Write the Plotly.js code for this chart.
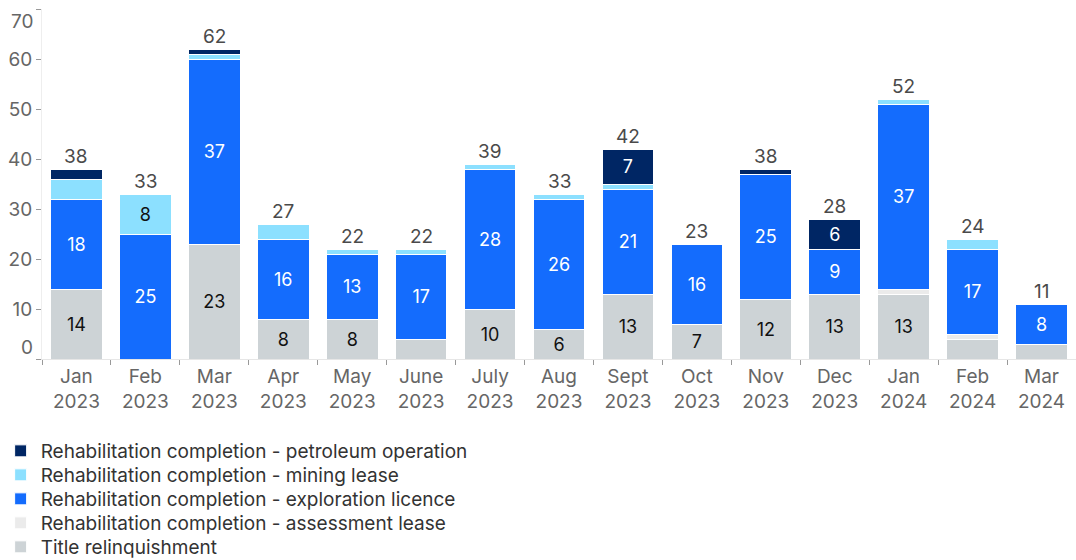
<!DOCTYPE html>
<html>
<head>
<meta charset="utf-8">
<script src="https://cdn.plot.ly/plotly-3.0.1.min.js"></script>
<style>html,body{margin:0;padding:0;background:#fff}#chart{width:1076px;height:560px}</style>
</head>
<body>
<div id="chart"></div>
<script>
const months = ["Jan<br>2023","Feb<br>2023","Mar<br>2023","Apr<br>2023","May<br>2023","June<br>2023","July<br>2023","Aug<br>2023","Sept<br>2023","Oct<br>2023","Nov<br>2023","Dec<br>2023","Jan<br>2024","Feb<br>2024","Mar<br>2024"];
const titleRelinquishment = [14,0,23,8,8,4,10,6,13,7,12,13,13,4,3];
const assessmentLease     = [0,0,0,0,0,0,0,0,0,0,0,0,1,1,0];
const explorationLicence  = [18,25,37,16,13,17,28,26,21,16,25,9,37,17,8];
const miningLease         = [4,8,1,3,1,1,1,1,1,0,0,0,1,2,0];
const petroleumOperation  = [2,0,1,0,0,0,0,0,7,0,1,6,0,0,0];
const yTickVals  = [0,10,20,30,40,50,60,70];
const yTickText  = ["0","10","20","30","40","50","60","70"];

const seriesNames = ["Title relinquishment","Rehabilitation completion - assessment lease","Rehabilitation completion - exploration licence","Rehabilitation completion - mining lease","Rehabilitation completion - petroleum operation"];
const seriesData = [titleRelinquishment, assessmentLease, explorationLicence, miningLease, petroleumOperation];
const seriesColors = ["#CDD3D6","#EBEBEB","#146CFD","#8CE0FF","#002664"];
const textColors = ["#111111","#111111","#ffffff","#111111","#ffffff"];
const legendIds = ["legend5","legend4","legend3","legend2","legend"];

const FONT = "Inter, 'Open Sans', sans-serif";

const traces = seriesData.map((vals, i) => ({
  type: "bar",
  name: seriesNames[i],
  legend: legendIds[i],
  x: months,
  y: vals,
  marker: {color: seriesColors[i], line: {color: "#ffffff", width: 1}},
  text: vals.map(v => v >= 5 ? String(v) : ""),
  textposition: "inside",
  insidetextanchor: "middle",
  constraintext: "none",
  textfont: {color: textColors[i], size: 18, family: FONT},
  hoverinfo: "x+y+name"
}));

const totals = months.map((m, j) => seriesData.reduce((s, arr) => s + arr[j], 0));
const annotations = months.map((m, j) => ({
  x: m, y: totals[j], xref: "x", yref: "y",
  text: String(totals[j]), showarrow: false,
  yanchor: "bottom", yshift: -1,
  font: {size: 19, color: "#4a4a4a", family: FONT}
}));
// edge tick labels are nudged inside the plot, as in the reference
[[0, 12], [yTickVals.length - 1, -12]].forEach(([k, shift]) => {
  annotations.push({
    x: 0, xref: "paper", y: yTickVals[k], yref: "y",
    text: yTickText[k], showarrow: false,
    xanchor: "right", xshift: -7, yshift: shift,
    font: {size: 19, color: "#666", family: FONT}
  });
});

const legendBase = {
  orientation: "v",
  x: -0.04, xanchor: "left", yanchor: "top",
  font: {size: 19, color: "#333", family: FONT},
  bgcolor: "rgba(0,0,0,0)",
  itemwidth: 30
};
const legendTops = [432, 456, 480, 504, 528]; // pixel tops, top to bottom
const toPaper = px => (359 - px) / 350;

const layout = {
  width: 1076, height: 560,
  margin: {l: 42, r: 0, t: 9, b: 201, autoexpand: false},
  barmode: "stack",
  bargap: 0.25,
  paper_bgcolor: "#ffffff",
  plot_bgcolor: "#ffffff",
  font: {family: FONT, color: "#555"},
  xaxis: {
    type: "category",
    tickson: "boundaries",
    ticks: "outside", ticklen: 5, tickcolor: "#999",
    showline: true, linecolor: "#e6e6e6", linewidth: 1,
    tickfont: {size: 19, color: "#666", family: FONT},
    showgrid: false
  },
  yaxis: {
    range: [0, 70],
    tickmode: "array",
    tickvals: yTickVals,
    ticktext: yTickText.map((t, k) => (k === 0 || k === yTickText.length - 1) ? "" : t),
    ticks: "outside", ticklen: 5, tickcolor: "#999",
    showline: true, linecolor: "#eeeeee", linewidth: 1,
    showgrid: false, zeroline: false,
    tickfont: {size: 19, color: "#666", family: FONT}
  },
  showlegend: true,
  legend:  Object.assign({}, legendBase, {y: toPaper(legendTops[0])}),
  legend2: Object.assign({}, legendBase, {y: toPaper(legendTops[1])}),
  legend3: Object.assign({}, legendBase, {y: toPaper(legendTops[2])}),
  legend4: Object.assign({}, legendBase, {y: toPaper(legendTops[3])}),
  legend5: Object.assign({}, legendBase, {y: toPaper(legendTops[4])}),
  annotations: annotations
};

Plotly.newPlot("chart", traces, layout, {displayModeBar: false, staticPlot: true});
</script>
</body>
</html>
